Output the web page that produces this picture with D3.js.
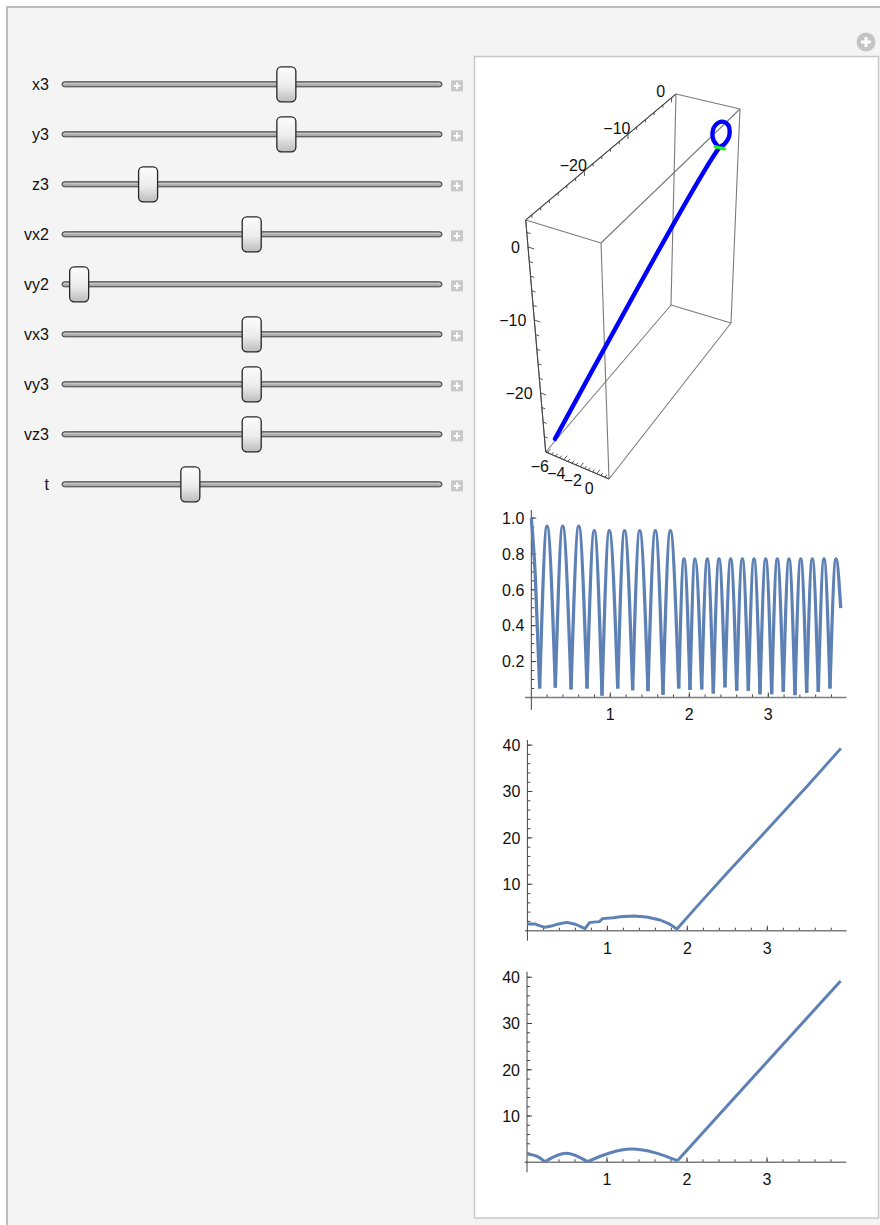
<!DOCTYPE html>
<html>
<head>
<meta charset="utf-8" />
<title>Manipulate panel: sliders, 3D orbit and time plots</title>
<style>
body { margin: 0; background: #fff; }
svg text {
    font-family: "Liberation Sans", Arial, sans-serif;
    font-size: 16px;
    fill: #111;
}
</style>
</head>
<body>
<div id="panel"></div>
<script src="https://cdnjs.cloudflare.com/ajax/libs/d3/7.8.5/d3.min.js"></script>
<script>
// slider controls (thumb position as fraction of the slider range)
var sliderNames = ["x3", "y3", "z3", "vx2", "vy2", "vx3", "vy3", "vz3", "t"]
var sliderPos   = [0.596, 0.596, 0.213, 0.5, 0.022, 0.5, 0.5, 0.5, 0.33]

// 3D orbit: loop near the origin, then the escape run
var orbitX = [-0.45, -1.07, -1.2, -0.85, -0.06, 0.69, 0.84, 0.74, 0.28, -0.34, -5.4]
var orbitY = [0, 0, 0, 0, 0, 0, 0, 0, 0, 0, -32.4]
var orbitZ = [-1.9, -1.07, 0.1, 1.24, 1.94, 1.56, 0.55, -0.23, -1.27, -2.06, -26.5]
var greenX = [-0.8, 0.3]
var greenY = [0, 0]
var greenZ = [-2.03, -2.0]
var boxXTicks = [-6, -4, -2, 0]
var boxYTicks = [-20, -10, 0]
var boxZTicks = [0, -10, -20]

// plot 1: ratio, key points (troughs and crests)
var ratioT = [0, 0.05, 0.106, 0.199, 0.304, 0.397, 0.503, 0.6, 0.705, 0.797, 0.895, 0.987, 1.094,
    1.18, 1.283, 1.372, 1.477, 1.57, 1.667, 1.76, 1.866, 1.933, 2.009, 2.072, 2.157, 2.228, 2.304,
    2.376, 2.452, 2.524, 2.6, 2.671, 2.747, 2.819, 2.895, 2.967, 3.043, 3.114, 3.19, 3.262, 3.338,
    3.41, 3.486, 3.557, 3.633, 3.705, 3.781, 3.857, 3.917]
var ratioV = [1.0, 0.68, 0.05, 0.955, 0.055, 0.955, 0.045, 0.955, 0.05, 0.93, 0.01, 0.93, 0.05,
    0.93, 0.04, 0.93, 0.035, 0.93, 0.015, 0.93, 0.05, 0.772, 0.042, 0.772, 0.045, 0.772, 0.022,
    0.772, 0.056, 0.772, 0.037, 0.772, 0.037, 0.772, 0.018, 0.772, 0.018, 0.772, 0.031, 0.772, 0.013,
    0.772, 0.026, 0.772, 0.031, 0.772, 0.05, 0.772, 0.498]
var ratioYTicks = [0.2, 0.4, 0.6, 0.8, 1.0]
var timeTicks = [1, 2, 3]

// plot 2: distance, sampled (jagged)
var distT = [0, 0.1, 0.13, 0.22, 0.3, 0.37, 0.49, 0.52, 0.6, 0.72, 0.77, 0.79, 0.9, 0.94, 1.075,
    1.16, 1.325, 1.49, 1.66, 1.78, 1.87, 2.16, 2.5, 3.0, 3.5, 3.92]
var distV = [1.44, 1.44, 1.2, 0.73, 1.0, 1.38, 1.8, 1.7, 1.38, 0.45, 1.6, 1.8, 1.95, 2.6, 2.8,
    3.0, 3.15, 2.95, 2.3, 1.4, 0.35, 6.0, 12.5, 21.8, 31.2, 39.3]

// plot 3: distance, smooth
var smoothT = [0, 0.12, 0.225, 0.49, 0.755, 1.31, 1.88, 3.92]
var smoothV = [1.8, 1.35, 0.15, 1.94, 0.15, 2.87, 0.35, 39.2]
var distYTicks = [10, 20, 30, 40]

!(function(){
    "use strict"

    var width = 880, height = 1225
    var svg = d3.select("#panel").append("svg")
        .attr("width", width).attr("height", height)

    var defs = svg.append("defs")
    var grad = defs.append("linearGradient").attr("id", "thumbGrad")
        .attr("x1", 0).attr("y1", 0).attr("x2", 0).attr("y2", 1)
    grad.append("stop").attr("offset", "0%").attr("stop-color", "#fdfdfd")
    grad.append("stop").attr("offset", "55%").attr("stop-color", "#ececec")
    grad.append("stop").attr("offset", "100%").attr("stop-color", "#bdbdbd")

    // outer frame
    svg.append("rect")
        .attr("x", 7).attr("y", 7).attr("width", 900).attr("height", 1240)
        .attr("fill", "#f4f4f4").attr("stroke", "#bcbcbc").attr("stroke-width", 2)

    var plusC = svg.append("g").attr("transform", "translate(866,42)")
    plusC.append("circle").attr("r", 9.5).attr("fill", "#c4c4c4")
    plusC.append("path").attr("d", "M-5,0H5M0,-5V5").attr("stroke", "#fff").attr("stroke-width", 3)

    drawSliders()

    // output panel
    svg.append("rect")
        .attr("x", 474.5).attr("y", 56.5).attr("width", 404).attr("height", 1161.5)
        .attr("fill", "#fff").attr("stroke", "#c8c8c8").attr("stroke-width", 1.5)

    drawBox()

    var curveColor = "#5e81b5"

    // plot 1
    var x1 = d3.scaleLinear().domain([-0.08, 3.99]).range([525, 846.5])
    var y1 = d3.scaleLinear().domain([-0.07, 1.045]).range([710, 510])
    var g1 = svg.append("g")
    axes(g1, x1, y1, 0.2, timeTicks, 0.05, ratioYTicks, d3.format(".1f"))
    var ratioPts = ratioT.map(function(t, i) { return [t, ratioV[i]] })
    g1.selectAll("path.hump")
        .data(splitAtTroughs(ratioPts))
        .enter().append("path")
        .attr("class", "hump")
        .attr("d", d3.line().x(function(d) { return x1(d[0]) }).y(function(d) { return y1(d[1]) })
            .curve(d3.curveMonotoneX))
        .attr("fill", "none").attr("stroke", curveColor).attr("stroke-width", 3.3)

    // plot 2
    var x2 = d3.scaleLinear().domain([-0.03, 3.99]).range([525, 846.5])
    var y2 = d3.scaleLinear().domain([-2.16, 41.1]).range([940.7, 740])
    var g2 = svg.append("g")
    axes(g2, x2, y2, 0.2, timeTicks, 2, distYTicks, d3.format("d"))
    g2.append("path")
        .datum(distT.map(function(t, i) { return [t, distV[i]] }))
        .attr("d", d3.line().x(function(d) { return x2(d[0]) }).y(function(d) { return y2(d[1]) }))
        .attr("fill", "none").attr("stroke", curveColor).attr("stroke-width", 2.9)
        .attr("stroke-linejoin", "round")

    // plot 3
    var x3 = d3.scaleLinear().domain([-0.03, 3.99]).range([524.6, 846.2])
    var y3 = d3.scaleLinear().domain([-2.16, 41.2]).range([1172.3, 971.7])
    var g3 = svg.append("g")
    axes(g3, x3, y3, 0.2, timeTicks, 2, distYTicks, d3.format("d"))
    var smoothPts = smoothT.map(function(t, i) { return [t, smoothV[i]] })
    g3.selectAll("path.hump")
        .data(splitAtTroughs(smoothPts))
        .enter().append("path")
        .attr("class", "hump")
        .attr("d", d3.line().x(function(d) { return x3(d[0]) }).y(function(d) { return y3(d[1]) })
            .curve(d3.curveMonotoneX))
        .attr("fill", "none").attr("stroke", curveColor).attr("stroke-width", 3)

    function splitAtTroughs(pts) {
        var segs = [], cur = [pts[0]]
        for (var i = 1; i < pts.length; i++) {
            cur.push(pts[i])
            var isTrough = i < pts.length - 1 && pts[i][1] < pts[i-1][1] && pts[i][1] < pts[i+1][1]
            if (isTrough) { segs.push(cur); cur = [pts[i]] }
        }
        segs.push(cur)
        return segs
    }

    function axes(g, x, y, xMinor, xMajor, yMinor, yMajor, yFmt) {
        var x0 = x(0), y0 = y(0)
        var xd = x.domain(), yd = y.domain()
        var xMinorTicks = d3.range(Math.ceil(xd[0] / xMinor) * xMinor, xd[1], xMinor)
            .filter(function(v) { return Math.abs(v) > 1e-6 })
        var yMinorTicks = d3.range(Math.ceil(yd[0] / yMinor) * yMinor, yd[1], yMinor)
            .filter(function(v) { return v > 1e-6 })

        g.selectAll("line.xminor").data(xMinorTicks).enter().append("line")
            .attr("x1", function(d) { return x(d) }).attr("x2", function(d) { return x(d) })
            .attr("y1", y0).attr("y2", y0 - 3)
            .attr("stroke", "#444").attr("stroke-width", 1)
        g.selectAll("line.xmajor").data(xMajor).enter().append("line")
            .attr("x1", function(d) { return x(d) }).attr("x2", function(d) { return x(d) })
            .attr("y1", y0).attr("y2", y0 - 5)
            .attr("stroke", "#444").attr("stroke-width", 1)
        g.selectAll("line.yminor").data(yMinorTicks).enter().append("line")
            .attr("y1", function(d) { return y(d) }).attr("y2", function(d) { return y(d) })
            .attr("x1", x0).attr("x2", x0 + 3)
            .attr("stroke", "#444").attr("stroke-width", 1)
        g.selectAll("line.ymajor").data(yMajor).enter().append("line")
            .attr("y1", function(d) { return y(d) }).attr("y2", function(d) { return y(d) })
            .attr("x1", x0).attr("x2", x0 + 5)
            .attr("stroke", "#444").attr("stroke-width", 1)

        g.append("line")
            .attr("x1", x.range()[0]).attr("x2", x.range()[1])
            .attr("y1", y0).attr("y2", y0)
            .attr("stroke", "#7d7d7d").attr("stroke-width", 1.6)
        g.append("line")
            .attr("x1", x0).attr("x2", x0)
            .attr("y1", y.range()[0]).attr("y2", y.range()[1])
            .attr("stroke", "#444").attr("stroke-width", 1)

        g.selectAll("text.xl").data(xMajor).enter().append("text")
            .attr("x", function(d) { return x(d) }).attr("y", y0 + 23)
            .attr("text-anchor", "middle")
            .text(function(d) { return d })
        g.selectAll("text.yl").data(yMajor).enter().append("text")
            .attr("x", x0 - 7).attr("y", function(d) { return y(d) })
            .attr("dy", "0.36em")
            .attr("text-anchor", "end")
            .text(yFmt)
    }

    function drawSliders() {
        var sx = d3.scaleLinear().domain([0, 1]).range([71.2, 432.2])
        var rowY = d3.scalePoint().domain(sliderNames).range([84.3, 484.3])

        var row = svg.selectAll("g.slider")
            .data(sliderNames)
            .enter().append("g")
            .attr("class", "slider")
            .attr("transform", function(d) { return "translate(0," + rowY(d) + ")" })

        row.append("text")
            .attr("x", 49).attr("dy", "0.35em").attr("text-anchor", "end")
            .text(function(d) { return d })

        row.append("rect")
            .attr("x", 62).attr("y", -2.5).attr("width", 380).attr("height", 5).attr("rx", 2.5)
            .attr("fill", "#a8a8a8").attr("stroke", "#3c3c3c").attr("stroke-width", 1)
        row.append("line")
            .attr("x1", 64).attr("x2", 440).attr("y1", -0.6).attr("y2", -0.6)
            .attr("stroke", "#d6d6d6").attr("stroke-width", 0.8)

        row.append("rect")
            .attr("x", function(d, i) { return sx(sliderPos[i]) - 9.5 })
            .attr("y", -17.5).attr("width", 19).attr("height", 35).attr("rx", 4.5)
            .attr("fill", "url(#thumbGrad)").attr("stroke", "#262626").attr("stroke-width", 1.3)

        row.append("rect")
            .attr("x", 451).attr("y", -4).attr("width", 12).attr("height", 11)
            .attr("fill", "#c8c8c8")
        row.append("path")
            .attr("d", "M453.5,1.5H460.5M457,-2V5")
            .attr("stroke", "#fff").attr("stroke-width", 1.8)
    }

    function drawBox() {
        var bu = d3.scaleLinear().domain([-6.2, 1.5]).range([0, 1])
        var bv = d3.scaleLinear().domain([-33.4, 1.0]).range([0, 1])
        var bw = d3.scaleLinear().domain([-28.1, 3.7]).range([0, 1])
        // screen position of the box corners, indexed [u][v][w]
        var c = [[[[545.7, 452], [525.7, 220]], [[671, 305], [676, 94]]],
                 [[[609, 479], [601, 243]], [[731, 323], [740, 109]]]]

        function proj(p) {
            var u = bu(p[0]), v = bv(p[1]), w = bw(p[2])
            var out = [0, 0]
            for (var a = 0; a < 2; a++) for (var b = 0; b < 2; b++) for (var k = 0; k < 2; k++) {
                var wt = (a ? u : 1 - u) * (b ? v : 1 - v) * (k ? w : 1 - w)
                out[0] += wt * c[a][b][k][0]
                out[1] += wt * c[a][b][k][1]
            }
            return out
        }

        var g = svg.append("g")
        var xd = bu.domain(), yd = bv.domain(), zd = bw.domain()
        var edges = []
        ;[0, 1].forEach(function(i) {
            [0, 1].forEach(function(j) {
                edges.push([[xd[0], yd[i], zd[j]], [xd[1], yd[i], zd[j]]])
                edges.push([[xd[i], yd[0], zd[j]], [xd[i], yd[1], zd[j]]])
                edges.push([[xd[i], yd[j], zd[0]], [xd[i], yd[j], zd[1]]])
            })
        })
        g.selectAll("line.edge").data(edges).enter().append("line")
            .attr("x1", function(d) { return proj(d[0])[0] }).attr("y1", function(d) { return proj(d[0])[1] })
            .attr("x2", function(d) { return proj(d[1])[0] }).attr("y2", function(d) { return proj(d[1])[1] })
            .attr("stroke", "#7a7a7a").attr("stroke-width", 1.1)

        // axis edges a bit darker
        var axisEdges = [
            [[xd[0], yd[0], zd[0]], [xd[1], yd[0], zd[0]]],
            [[xd[0], yd[0], zd[1]], [xd[0], yd[1], zd[1]]],
            [[xd[0], yd[0], zd[0]], [xd[0], yd[0], zd[1]]]
        ]
        g.selectAll("line.axedge").data(axisEdges).enter().append("line")
            .attr("x1", function(d) { return proj(d[0])[0] }).attr("y1", function(d) { return proj(d[0])[1] })
            .attr("x2", function(d) { return proj(d[1])[0] }).attr("y2", function(d) { return proj(d[1])[1] })
            .attr("stroke", "#444").attr("stroke-width", 1)

        // ticks: [from, to] in data space
        var ticks = []
        d3.range(-6, xd[1], 0.5).forEach(function(v) {
            var len = boxXTicks.indexOf(v) >= 0 ? 0.9 : 0.55
            ticks.push([[v, yd[0], zd[0]], [v, yd[0] + len, zd[0]]])
        })
        d3.range(-32, yd[1], 2).forEach(function(v) {
            var len = boxYTicks.indexOf(v) >= 0 ? 0.7 : 0.4
            ticks.push([[xd[0], v, zd[1]], [xd[0], v, zd[1] - len]])
        })
        d3.range(-28, zd[1], 2).forEach(function(v) {
            var len = boxZTicks.indexOf(v) >= 0 ? 0.65 : 0.4
            ticks.push([[xd[0], yd[0], v], [xd[0] + len, yd[0], v]])
        })
        g.selectAll("line.tick").data(ticks).enter().append("line")
            .attr("x1", function(d) { return proj(d[0])[0] }).attr("y1", function(d) { return proj(d[0])[1] })
            .attr("x2", function(d) { return proj(d[1])[0] }).attr("y2", function(d) { return proj(d[1])[1] })
            .attr("stroke", "#444").attr("stroke-width", 0.9)

        var fmt = d3.format("d")
        g.selectAll("text.xl").data(boxXTicks).enter().append("text")
            .attr("x", function(d) { return proj([d, yd[0], zd[0]])[0] - 7.5 })
            .attr("y", function(d) { return proj([d, yd[0], zd[0]])[1] + 14 })
            .attr("dy", "0.36em").attr("text-anchor", "middle").text(fmt)
        g.selectAll("text.yl").data(boxYTicks).enter().append("text")
            .attr("x", function(d) { return proj([xd[0], d, zd[1]])[0] - 11 })
            .attr("y", function(d) { return proj([xd[0], d, zd[1]])[1] - 6 })
            .attr("dy", "0.36em").attr("text-anchor", "middle").text(fmt)
        g.selectAll("text.zl").data(boxZTicks).enter().append("text")
            .attr("x", function(d) { return proj([xd[0], yd[0], d])[0] - 8 })
            .attr("y", function(d) { return proj([xd[0], yd[0], d])[1] })
            .attr("dy", "0.36em").attr("text-anchor", "end").text(fmt)

        var orbit = orbitX.map(function(v, i) { return proj([v, orbitY[i], orbitZ[i]]) })
        g.append("path")
            .datum(orbit)
            .attr("d", d3.line().curve(d3.curveCatmullRom))
            .attr("fill", "none").attr("stroke", "#0000ff").attr("stroke-width", 4.4)
            .attr("stroke-linecap", "round").attr("stroke-linejoin", "round")
        var green = greenX.map(function(v, i) { return proj([v, greenY[i], greenZ[i]]) })
        g.append("path")
            .datum(green)
            .attr("d", d3.line())
            .attr("fill", "none").attr("stroke", "#22ee22").attr("stroke-width", 3.5)
            .attr("stroke-linecap", "round")
    }
}());
</script>
</body>
</html>
